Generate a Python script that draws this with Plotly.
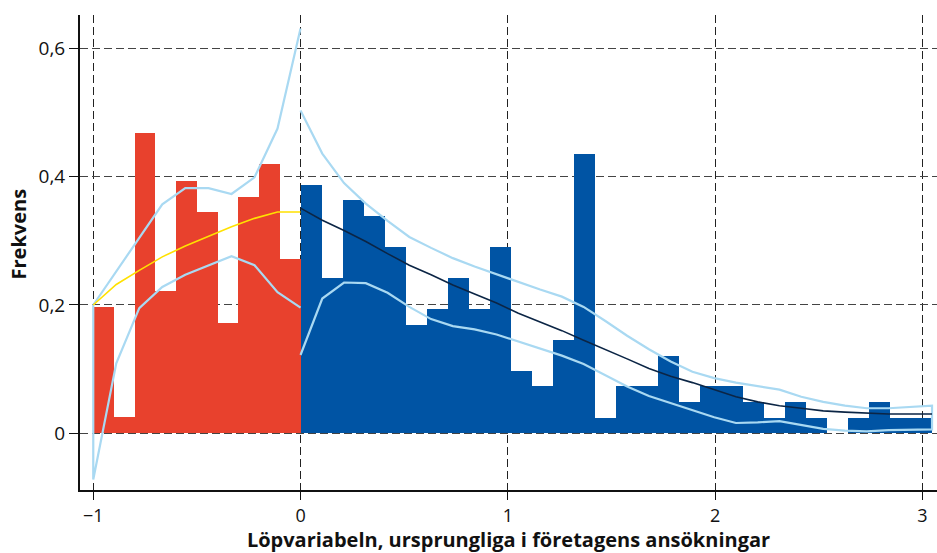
import plotly.graph_objects as go

# Histogram heights, left of the cut-off (bins of width 0.1 from -1 to 0)
left_bin_start = -1.0
left_bin_width = 0.1
left_heights = [0.197, 0.025, 0.468, 0.222, 0.394, 0.345, 0.172, 0.369, 0.419, 0.271]

# Histogram heights, right of the cut-off (30 bins from 0 to 3.047)
right_bin_start = 0.0
right_bin_width = 3.047 / 30
right_heights = [0.387, 0.242, 0.363, 0.339, 0.290, 0.169, 0.194, 0.242, 0.194, 0.290,
                 0.097, 0.073, 0.145, 0.435, 0.024, 0.073, 0.073, 0.121, 0.048, 0.073,
                 0.073, 0.048, 0.024, 0.048, 0.024, 0.000, 0.024, 0.048, 0.024, 0.024]

# Fitted density and confidence band, left side
left_x = [-1.0, -0.889, -0.778, -0.667, -0.556, -0.444, -0.333, -0.222, -0.111, 0.0]
left_fit = [0.200, 0.232, 0.254, 0.275, 0.292, 0.307, 0.322, 0.335, 0.345, 0.345]
left_upper = [0.200, 0.252, 0.304, 0.357, 0.382, 0.382, 0.373, 0.399, 0.475, 0.631]
left_lower = [-0.072, 0.109, 0.195, 0.228, 0.247, 0.262, 0.276, 0.262, 0.220, 0.196]

# Fitted density and confidence band, right side
right_x = [0.0, 0.105, 0.210, 0.315, 0.420, 0.525, 0.630, 0.735, 0.840, 0.946,
           1.051, 1.156, 1.261, 1.366, 1.471, 1.576, 1.681, 1.786, 1.891, 1.996,
           2.101, 2.206, 2.311, 2.416, 2.522, 2.627, 2.732, 2.837, 2.942, 3.047]
right_fit = [0.351, 0.332, 0.316, 0.299, 0.280, 0.262, 0.247, 0.231, 0.217, 0.203,
             0.187, 0.174, 0.160, 0.145, 0.131, 0.116, 0.101, 0.089, 0.079, 0.068,
             0.057, 0.049, 0.043, 0.039, 0.035, 0.033, 0.031, 0.030, 0.030, 0.030]
right_upper = [0.503, 0.436, 0.390, 0.358, 0.331, 0.306, 0.289, 0.273, 0.260, 0.248,
               0.235, 0.224, 0.213, 0.197, 0.175, 0.152, 0.131, 0.112, 0.096, 0.086,
               0.079, 0.074, 0.068, 0.057, 0.049, 0.043, 0.039, 0.039, 0.041, 0.043]
right_lower = [0.122, 0.210, 0.235, 0.234, 0.219, 0.197, 0.178, 0.167, 0.162, 0.154,
               0.143, 0.132, 0.121, 0.108, 0.091, 0.073, 0.058, 0.047, 0.036, 0.025,
               0.016, 0.017, 0.019, 0.013, 0.007, 0.004, 0.003, 0.005, 0.006, 0.006]

x_ticks = [-1, 0, 1, 2, 3]
y_ticks = [0, 0.2, 0.4, 0.6]

RED = "#E8412D"
BLUE = "#0054A4"
LIGHT = "#A9D9F2"
NAVY = "#0B2545"
YELLOW = "#FFE100"

fig = go.Figure()

left_centers = [left_bin_start + (i + 0.5) * left_bin_width for i in range(len(left_heights))]
right_centers = [right_bin_start + (i + 0.5) * right_bin_width for i in range(len(right_heights))]

fig.add_trace(go.Bar(x=left_centers, y=left_heights, width=left_bin_width,
                     marker=dict(color=RED, line=dict(width=0)), hoverinfo="skip"))
fig.add_trace(go.Bar(x=right_centers, y=right_heights, width=right_bin_width,
                     marker=dict(color=BLUE, line=dict(width=0)), hoverinfo="skip"))

# Band outlines: open on the cut-off side, closed at the outer end
band_left_x = left_x[::-1] + left_x
band_left_y = left_upper[::-1] + left_lower
band_right_x = right_x + right_x[::-1]
band_right_y = right_upper + right_lower[::-1]

fig.add_trace(go.Scatter(x=band_left_x, y=band_left_y, mode="lines",
                         line=dict(color=LIGHT, width=2.2)))
fig.add_trace(go.Scatter(x=band_right_x, y=band_right_y, mode="lines",
                         line=dict(color=LIGHT, width=2.2)))
fig.add_trace(go.Scatter(x=left_x, y=left_fit, mode="lines",
                         line=dict(color=YELLOW, width=1.6)))
fig.add_trace(go.Scatter(x=right_x, y=right_fit, mode="lines",
                         line=dict(color=NAVY, width=1.6)))

font_family = "Open Sans, Noto Sans, Arial, sans-serif"

fig.update_layout(
    width=937, height=553,
    margin=dict(l=80, r=0, t=15, b=63),
    paper_bgcolor="white", plot_bgcolor="white",
    showlegend=False, bargap=0,
    separators=", ",
    font=dict(family=font_family, size=18, color="#111"),
    xaxis=dict(
        range=[-1.064, 3.071],
        tickvals=x_ticks,
        showgrid=True, gridcolor="#222", gridwidth=1, griddash="8px,4px",
        zeroline=False,
        showline=True, linecolor="#111", linewidth=2,
        ticks="outside", ticklen=8, tickcolor="#111", tickwidth=1,
        tickfont=dict(size=18),
        title=dict(text="<b>Löpvariabeln, ursprungliga i företagens ansökningar</b>",
                   font=dict(size=20), standoff=2),
    ),
    yaxis=dict(
        range=[-0.0884, 0.652],
        tickvals=y_ticks,
        tickformat=".1~f",
        showgrid=True, gridcolor="#444", gridwidth=1, griddash="8px,4px",
        zeroline=False,
        showline=True, linecolor="#111", linewidth=2,
        ticks="outside", ticklen=9, tickcolor="#111", tickwidth=1,
        tickfont=dict(size=19),
    ),
    annotations=[dict(
        text="<b>Frekvens</b>", textangle=-90, showarrow=False,
        xref="paper", yref="paper", x=-0.0712, y=0.54,
        xanchor="center", yanchor="middle", font=dict(size=20),
    )],
)

fig.write_html("out.html")
